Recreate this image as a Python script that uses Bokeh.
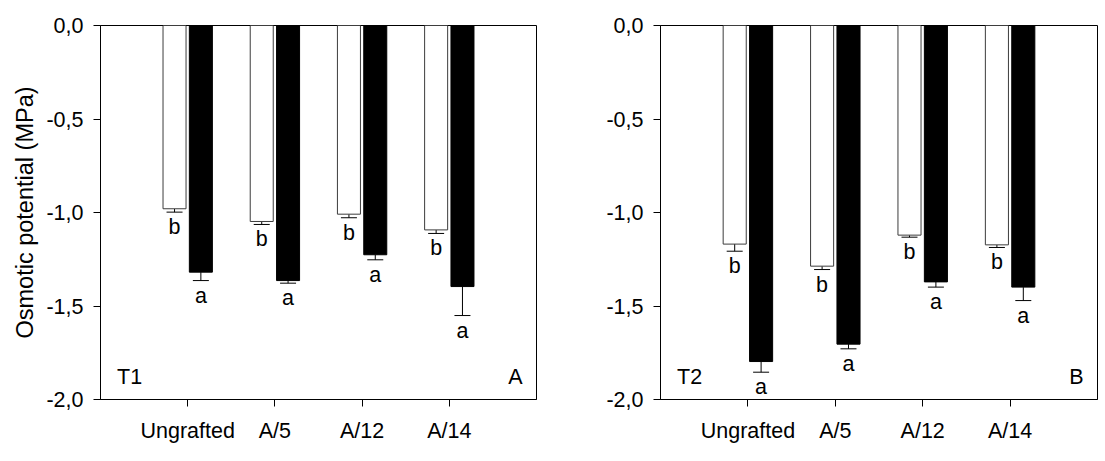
import numpy as np
from bokeh.plotting import figure
from bokeh.layouts import row
from bokeh.models import ColumnDataSource, Whisker, TeeHead, FixedTicker, Label
from bokeh.core.properties import value
from bokeh.embed import file_html
from bokeh.resources import INLINE

# ---- data ----
categories = ["Ungrafted", "A/5", "A/12", "A/14"]

t1_white = [-0.98, -1.048, -1.009, -1.093]
t1_white_err = [0.018, 0.016, 0.019, 0.019]
t1_black = [-1.319, -1.364, -1.226, -1.396]
t1_black_err = [0.045, 0.014, 0.027, 0.155]

t2_white = [-1.169, -1.287, -1.121, -1.173]
t2_white_err = [0.038, 0.018, 0.011, 0.014]
t2_black = [-1.797, -1.704, -1.371, -1.399]
t2_black_err = [0.057, 0.025, 0.028, 0.072]

white_letters = ["b", "b", "b", "b"]
black_letters = ["a", "a", "a", "a"]

y_ticks = [0.0, -0.5, -1.0, -1.5, -2.0]
y_tick_labels = ["0,0", "-0,5", "-1,0", "-1,5", "-2,0"]

FONT = "Liberation Sans"
FS = "21.5px"


def make_panel(white, white_err, black, black_err, tag, letter, width, bl, br, ylabel):
    xs = np.arange(1, len(categories) + 1)
    off = 0.151
    bw = 0.264
    p = figure(width=width, height=461, x_range=(0, 5), y_range=(-2, 0),
               output_backend="svg", toolbar_location=None,
               min_border_left=bl, min_border_right=br,
               min_border_top=25, min_border_bottom=62)
    p.xgrid.visible = False
    p.ygrid.visible = False
    p.outline_line_color = "black"
    p.outline_line_width = 1
    p.background_fill_color = "white"
    p.border_fill_color = "white"

    for vals, errs, letters, dx, fill, line in (
        (white, white_err, white_letters, -off, "white", "#3c3c3c"),
        (black, black_err, black_letters, off, "black", "black"),
    ):
        vals = np.array(vals)
        errs = np.array(errs)
        src = ColumnDataSource(dict(x=xs + dx, top=np.zeros_like(vals), bottom=vals,
                                    low=vals - errs, lab=letters))
        p.vbar(x="x", top="top", bottom="bottom", width=bw, source=src,
               fill_color=fill, line_color=line, line_width=1)
        w = Whisker(source=src, base="x", upper="bottom", lower="low",
                    upper_head=None,
                    lower_head=TeeHead(size=16, line_color="black", line_width=1),
                    line_color="black", line_width=1)
        p.add_layout(w)
        p.text(x="x", y="low", text="lab", source=src, text_align="center",
               text_baseline="alphabetic", y_offset=15,
               text_font=value(FONT), text_font_size=FS, text_color="black")

    p.add_layout(Label(x=0.19, y=-1.88, text=tag, text_align="left",
                       text_baseline="alphabetic", text_font=FONT,
                       text_font_size=FS, text_color="black"))
    p.add_layout(Label(x=4.84, y=-1.88, text=letter, text_align="right",
                       text_baseline="alphabetic", text_font=FONT,
                       text_font_size=FS, text_color="black"))

    # axes
    p.xaxis.ticker = FixedTicker(ticks=list(xs))
    p.xaxis.major_label_overrides = {int(x): c for x, c in zip(xs, categories)}
    p.yaxis.ticker = FixedTicker(ticks=y_ticks)
    p.yaxis.major_label_overrides = {t: l for t, l in zip(y_ticks, y_tick_labels)}
    for ax in (p.xaxis, p.yaxis):
        ax.axis_line_color = "black"
        ax.axis_line_width = 1
        ax.major_tick_line_color = "black"
        ax.major_tick_in = 0
        ax.major_tick_out = 7
        ax.minor_tick_in = 0
        ax.minor_tick_out = 0
        ax.major_label_text_font = FONT
        ax.major_label_text_font_size = FS
        ax.major_label_text_color = "black"
    p.xaxis.major_label_standoff = 12
    p.yaxis.major_label_standoff = 10
    if ylabel:
        p.yaxis.axis_label = ylabel
        p.yaxis.axis_label_text_font = FONT
        p.yaxis.axis_label_text_font_size = "23.5px"
        p.yaxis.axis_label_text_font_style = "normal"
        p.yaxis.axis_label_text_color = "black"
        p.yaxis.axis_label_standoff = 5
    return p


pa = make_panel(t1_white, t1_white_err, t1_black, t1_black_err, "T1", "A",
                600, 100, 64, "Osmotic potential (MPa)")
pb = make_panel(t2_white, t2_white_err, t2_black, t2_black_err, "T2", "B",
                505, 60, 8, None)

layout = row(pa, pb)
open("out.html", "w").write(file_html(layout, INLINE))
